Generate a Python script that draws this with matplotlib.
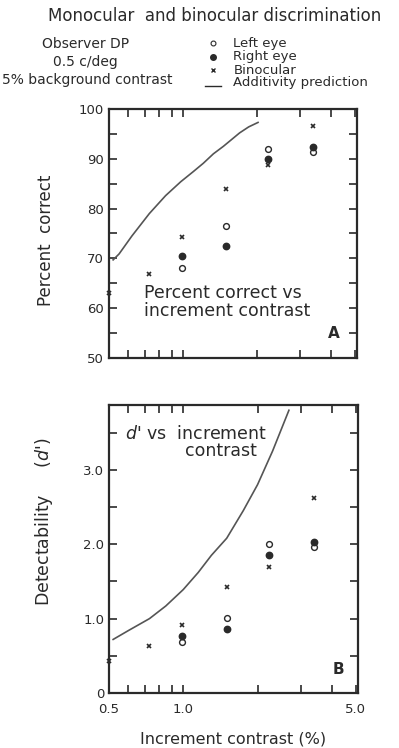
import matplotlib
matplotlib.use("Agg")
import matplotlib.pyplot as plt
from matplotlib.ticker import FixedLocator, NullFormatter, FixedFormatter

# increment contrast (%)
contrast = [0.5, 0.73, 0.99, 1.5, 2.22, 3.38]

# panel A: percent correct
pc_left = [None, None, 68.1, 76.5, 92.0, 91.3]
pc_right = [None, None, 70.4, 72.4, 90.0, 92.3]
pc_bino = [63.0, 66.9, 74.2, 84.0, 88.7, 96.6]
pc_add_x = [0.52, 0.55, 0.62, 0.73, 0.85, 0.98, 1.1, 1.21, 1.33, 1.46, 1.58, 1.70, 1.85, 2.02]
pc_add_y = [69.7, 70.9, 74.5, 79.0, 82.6, 85.4, 87.4, 89.1, 91.0, 92.5, 93.9, 95.2, 96.4, 97.3]

# panel B: d'
d_left = [None, None, 0.68, 1.01, 2.00, 1.96]
d_right = [None, None, 0.77, 0.86, 1.85, 2.03]
d_bino = [0.43, 0.63, 0.92, 1.42, 1.70, 2.62]
d_add_x = [0.52, 0.6, 0.73, 0.85, 1.0, 1.15, 1.3, 1.5, 1.75, 2.0, 2.3, 2.68]
d_add_y = [0.72, 0.84, 1.0, 1.17, 1.39, 1.62, 1.85, 2.08, 2.45, 2.8, 3.25, 3.8]

ink = "#2a2a2a"
plt.rcParams['font.family'] = ['DejaVu Sans']
plt.rcParams['text.color'] = ink

fig = plt.figure(figsize=(3.99, 7.48), dpi=100)
axA = fig.add_axes([0.273, 0.5214, 0.6216, 0.3329])
axB = fig.add_axes([0.273, 0.0735, 0.624, 0.385])


def pts(xs, ys):
    px = [x for x, y in zip(xs, ys) if y is not None]
    py = [y for y in ys if y is not None]
    return px, py


def style(ax):
    ax.set_xscale("log")
    ax.set_xlim(0.5, 5.1)
    ax.xaxis.set_major_locator(FixedLocator([0.5, 1.0, 5.0]))
    ax.xaxis.set_minor_locator(FixedLocator([0.6, 0.7, 0.8, 0.9, 2, 3, 4]))
    ax.xaxis.set_minor_formatter(NullFormatter())
    ax.tick_params(which="both", direction="in", top=True, right=True,
                   colors=ink, labelsize=9.5, width=1.2, length=6)
    for s in ax.spines.values():
        s.set_linewidth(1.6)
        s.set_color(ink)


for ax, left, right, bino, ax_x, ax_y in [
        (axA, pc_left, pc_right, pc_bino, pc_add_x, pc_add_y),
        (axB, d_left, d_right, d_bino, d_add_x, d_add_y)]:
    style(ax)
    ax.plot(ax_x, ax_y, color="#555555", lw=1.2)
    x, y = pts(contrast, left)
    ax.plot(x, y, "o", ms=4.2, mfc="white", mec=ink, mew=1.0, clip_on=False)
    x, y = pts(contrast, right)
    ax.plot(x, y, "o", ms=4.6, color=ink, clip_on=False)
    x, y = pts(contrast, bino)
    ax.plot(x, y, "x", ms=3.5, color=ink, mew=1.2, clip_on=False)

# panel A
axA.set_ylim(50, 100)
axA.set_yticks([50, 60, 70, 80, 90, 100])
axA.set_yticks([55, 65, 75, 85, 95], minor=True)
axA.xaxis.set_major_formatter(NullFormatter())
axA.set_ylabel("Percent  correct", fontsize=12, color=ink)
axA.yaxis.set_label_coords(-0.218, 0.474)
axA.text(0.14, 0.226, "Percent correct vs\nincrement contrast", transform=axA.transAxes,
         fontsize=12.5, va="center", ha="left", linespacing=1.0)
axA.text(0.905, 0.1, "A", transform=axA.transAxes, fontsize=11, fontweight="bold",
         ha="center", va="center")

# panel B
axB.set_ylim(0, 3.87)
axB.set_yticks([0, 1, 2, 3])
axB.yaxis.set_major_formatter(FixedFormatter(["0", "1.0", "2.0", "3.0"]))
axB.set_yticks([0.5, 1.5, 2.5, 3.5], minor=True)
axB.xaxis.set_major_formatter(FixedFormatter(["0.5", "1.0", "5.0"]))
axB.tick_params(axis="x", which="major", pad=7)
axB.set_ylabel(r"Detectability     ($\mathit{d}$')", fontsize=12.5, color=ink)
axB.yaxis.set_label_coords(-0.218, 0.594)
axB.set_xlabel("Increment contrast (%)", fontsize=11.5, color=ink, labelpad=11)
axB.text(0.064, 0.9, r"$\mathit{d}$' vs  increment", transform=axB.transAxes,
         fontsize=12.5, va="center", ha="left")
axB.text(0.305, 0.84, "contrast", transform=axB.transAxes,
         fontsize=12.5, va="center", ha="left")
axB.text(0.92, 0.083, "B", transform=axB.transAxes, fontsize=11, fontweight="bold",
         ha="center", va="center")

# header
fig.text(0.537, 0.979, "Monocular  and binocular discrimination", fontsize=12,
         ha="center", va="center")
fig.text(0.215, 0.941, "Observer DP", fontsize=10, ha="center", va="center")
fig.text(0.215, 0.917, "0.5 c/deg", fontsize=10, ha="center", va="center")
fig.text(0.005, 0.893, "5% background contrast", fontsize=10, ha="left", va="center")

leg_rows = [("o", "Left eye"), ("o", "Right eye"), ("x", "Binocular"), ("-", "Additivity prediction")]
leg_y = [0.9425, 0.9238, 0.9064, 0.8895]
for (m, lab), yy in zip(leg_rows, leg_y):
    fig.text(0.585, yy, lab, fontsize=9.5, ha="left", va="center")
lx = 0.535
fig.lines.append(plt.Line2D([lx], [leg_y[0]], marker="o", ms=3.5, mfc="white", mec=ink,
                            mew=0.8, transform=fig.transFigure))
fig.lines.append(plt.Line2D([lx], [leg_y[1]], marker="o", ms=4, color=ink,
                            transform=fig.transFigure))
fig.lines.append(plt.Line2D([lx], [leg_y[2]], marker="x", ms=3, color=ink, mew=1,
                            transform=fig.transFigure))
fig.lines.append(plt.Line2D([lx - 0.02, lx + 0.02], [leg_y[3] - 0.004, leg_y[3] - 0.004],
                            color=ink, lw=1, transform=fig.transFigure))

fig.savefig("out.png", dpi=100, facecolor="white")
